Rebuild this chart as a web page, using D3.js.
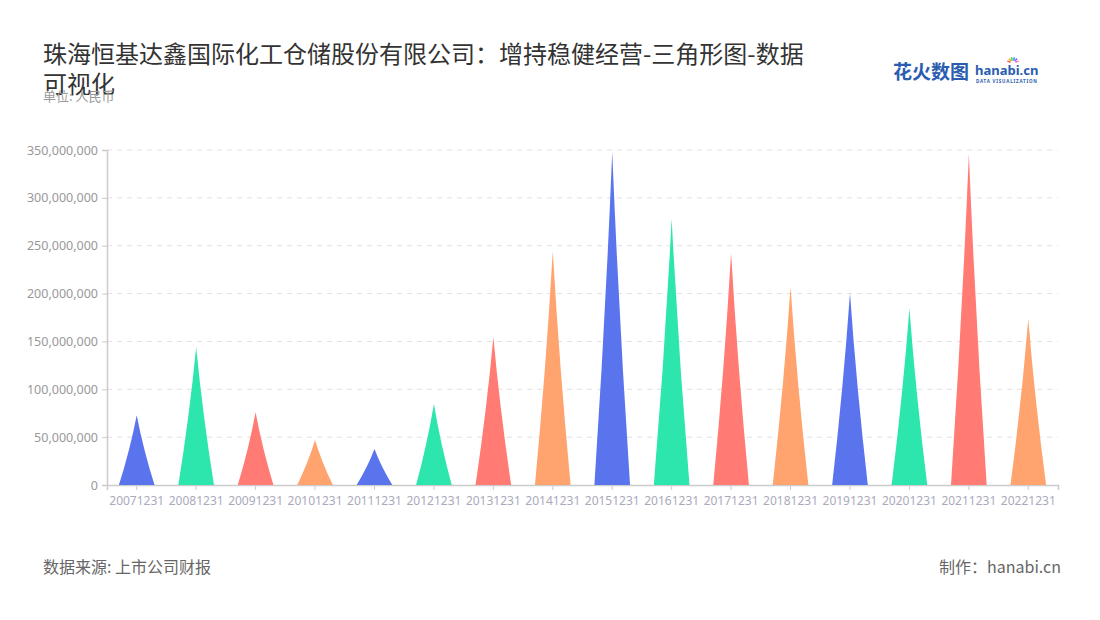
<!DOCTYPE html>
<html>
<head>
<meta charset="utf-8">
<script src="https://cdn.jsdelivr.net/npm/d3@7"></script>
<style>
  html, body { margin: 0; padding: 0; background: #fff; }
  svg { display: block; font-family: "Noto Sans CJK SC", "Noto Sans", sans-serif; }
</style>
</head>
<body>
<svg id="chart" width="1100" height="620"></svg>
<script>
const categories = ["20071231","20081231","20091231","20101231","20111231","20121231","20131231","20141231","20151231","20161231","20171231","20181231","20191231","20201231","20211231","20221231"];
const values = [73000000, 144000000, 76000000, 47000000, 37500000, 84500000, 154500000, 244500000, 348000000, 278500000, 242500000, 207000000, 200500000, 184500000, 346000000, 173500000];
const yTicks = [0, 50000000, 100000000, 150000000, 200000000, 250000000, 300000000, 350000000];
const palette = ["#5a74ee", "#2de6ad", "#ff7b73", "#ffa46f"];

const svg = d3.select("#chart");
const margin = {left: 107, right: 42, top: 150, bottom: 135};
const W = 1100, H = 620;

const x = d3.scaleBand().domain(categories).range([margin.left, W - margin.right]).paddingInner(0).paddingOuter(0);
const y = d3.scaleLinear().domain([0, 350000000]).range([H - margin.bottom, margin.top]);

// gridlines
svg.append("g").selectAll("line").data(yTicks.slice(1)).join("line")
  .attr("x1", margin.left).attr("x2", W - margin.right)
  .attr("y1", d => y(d)).attr("y2", d => y(d))
  .attr("stroke", "#e0e0e0").attr("stroke-dasharray", "5,5").attr("stroke-width", 1);

// y axis
const yAxis = svg.append("g").attr("transform", `translate(${margin.left},0)`)
  .call(d3.axisLeft(y).tickValues(yTicks).tickFormat(d3.format(",")).tickSize(5).tickPadding(4));
yAxis.select(".domain").attr("stroke", "#cccccc").attr("stroke-width", 1.5);
yAxis.selectAll(".tick line").attr("stroke", "#cccccc");
yAxis.selectAll(".tick text").attr("fill", "#999").attr("font-size", 12.5).attr("font-family", "'Noto Sans', sans-serif");

// x axis
const xAxis = svg.append("g").attr("transform", `translate(0,${y(0)})`)
  .call(d3.axisBottom(x).tickSize(5).tickPadding(6));
xAxis.select(".domain").attr("stroke", "#cccccc").attr("stroke-width", 1.5);
xAxis.selectAll(".tick line").attr("stroke", "#cccccc");
xAxis.selectAll(".tick text").attr("fill", "#aab").attr("font-size", 12).attr("font-family", "'Noto Sans', sans-serif");

// triangles (slightly concave sides)
const halfW = x.bandwidth() * 0.3;
function triPath(d) {
  const cx = x(d.cat) + x.bandwidth() / 2;
  const yb = y(0), yt = y(d.val);
  const h = yb - yt;
  const L = cx - halfW, R = cx + halfW;
  const p = d3.path();
  p.moveTo(L, yb);
  p.lineTo(R, yb);
  p.quadraticCurveTo(cx + halfW * 0.38, yb - h * 0.5, cx, yt);
  p.quadraticCurveTo(cx - halfW * 0.38, yb - h * 0.5, L, yb);
  p.closePath();
  return p.toString();
}
svg.append("g").selectAll("path").data(categories.map((c, i) => ({cat: c, val: values[i], i})))
  .join("path")
  .attr("d", triPath)
  .attr("fill", d => palette[d.i % palette.length]);

// title
const title = svg.append("text").attr("font-size", 24).attr("fill", "#333");
title.append("tspan").attr("x", 43).attr("y", 63).text("珠海恒基达鑫国际化工仓储股份有限公司：增持稳健经营-三角形图-数据");
title.append("tspan").attr("x", 43).attr("y", 93).text("可视化");
svg.append("text").attr("x", 43).attr("y", 101).attr("font-size", 13).attr("fill", "#999").text("单位: 人民币");

// logo
const logo = svg.append("g");
logo.append("text").attr("x", 893).attr("y", 79).attr("font-size", 19).attr("font-weight", "bold")
  .attr("fill", "#2a5db0").text("花火数图");
logo.append("text").attr("x", 975).attr("y", 75).attr("font-size", 13).attr("font-weight", "bold")
  .attr("fill", "#2a5db0").attr("font-family", "'Noto Sans', sans-serif").text("hanabi.cn");
logo.append("text").attr("x", 976).attr("y", 82.5).attr("font-size", 4.5).attr("font-weight", "bold")
  .attr("fill", "#2a5db0").attr("letter-spacing", 0.8).attr("font-family", "'Noto Sans', sans-serif").text("DATA VISUALIZATION");
const sparkColors = ["#ff5a5a","#ffb400","#3ccf6e","#2a9df4","#9b59ff","#ff7ab8"];
sparkColors.forEach((c, i) => {
  const a = -Math.PI * 0.9 + i * Math.PI * 0.16;
  logo.append("line").attr("x1", 1013 + Math.cos(a) * 2.5).attr("y1", 63 + Math.sin(a) * 2.5)
    .attr("x2", 1013 + Math.cos(a) * 6).attr("y2", 63 + Math.sin(a) * 6)
    .attr("stroke", c).attr("stroke-width", 1.5);
});

// footer
svg.append("text").attr("x", 43).attr("y", 573).attr("font-size", 16).attr("fill", "#666").text("数据来源: 上市公司财报");
svg.append("text").attr("x", 1061).attr("y", 573).attr("font-size", 16).attr("fill", "#666")
  .attr("text-anchor", "end").text("制作：hanabi.cn");
</script>
</body>
</html>
